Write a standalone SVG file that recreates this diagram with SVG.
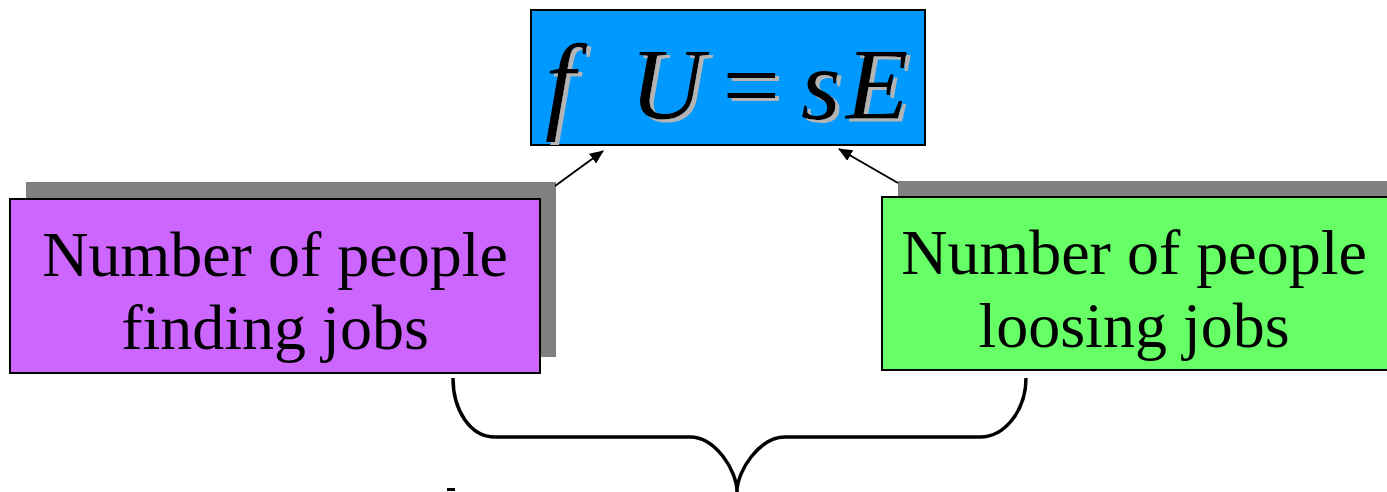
<svg xmlns="http://www.w3.org/2000/svg" width="1387" height="492" viewBox="0 0 1387 492">
<style>
.box{stroke:#000;stroke-width:2}
.shadow{fill:#808080}
.lbl{font-family:"Liberation Serif","Times New Roman",serif;font-size:64px;fill:#000;text-anchor:middle}
.eq{font-family:"Liberation Serif","Times New Roman",serif;font-size:102px;font-style:italic;fill:#000}
.conn{stroke:#000;stroke-width:2;fill:none}
.brace{stroke:#000;stroke-width:3.5;fill:none}
</style>
<defs>
<marker id="ah" markerWidth="14" markerHeight="14" refX="13" refY="7" orient="auto" markerUnits="userSpaceOnUse" viewBox="0 0 14 14">
<path d="M0,1 L14,7 L0,13 z" fill="#000"/>
</marker>
<filter id="ts" x="-10%" y="-10%" width="130%" height="130%">
<feFlood flood-color="#b4b4b4" result="c"/>
<feComposite in="c" in2="SourceAlpha" operator="in" result="s"/>
<feOffset in="s" dx="4" dy="3" result="o"/>
<feMerge><feMergeNode in="o"/><feMergeNode in="SourceGraphic"/></feMerge>
</filter>
</defs>
<rect width="1387" height="492" fill="#fff"/>
<g id="equation">
<rect class="box" x="531" y="10" width="394" height="135" fill="#0099ff"/>
<g class="eq" filter="url(#ts)">
<text x="545" y="119" font-size="108">f</text>
<text x="630" y="119">U</text>
<text x="716" y="119">=</text>
<text x="801" y="119">s</text>
<text x="846" y="119">E</text>
</g>
</g>
<g id="finding">
<rect class="shadow" x="26" y="182" width="530" height="175"/>
<rect class="box" x="10" y="199" width="530" height="174" fill="#cc66ff"/>
<text class="lbl" x="275" y="276">Number of people</text>
<text class="lbl" x="275" y="349">finding jobs</text>
</g>
<g id="loosing">
<rect class="shadow" x="898" y="181" width="500" height="175"/>
<rect class="box" x="882" y="197" width="510" height="173" fill="#66ff66"/>
<text class="lbl" x="1134" y="274">Number of people</text>
<text class="lbl" x="1134" y="347">loosing jobs</text>
</g>
<g id="connectors">
<line class="conn" x1="555" y1="186" x2="603" y2="151" marker-end="url(#ah)"/>
<line class="conn" x1="898" y1="183" x2="839" y2="149" marker-end="url(#ah)"/>
<path class="brace" d="M453,378 C453,410 470,437 495,437 L690,437 C715,437 737,470 737,492 M737,492 C737,470 760,437 785,437 L980,437 C1005,437 1026,410 1026,378"/>
<rect x="447" y="488" width="8" height="3" fill="#000"/>
</g>
</svg>
